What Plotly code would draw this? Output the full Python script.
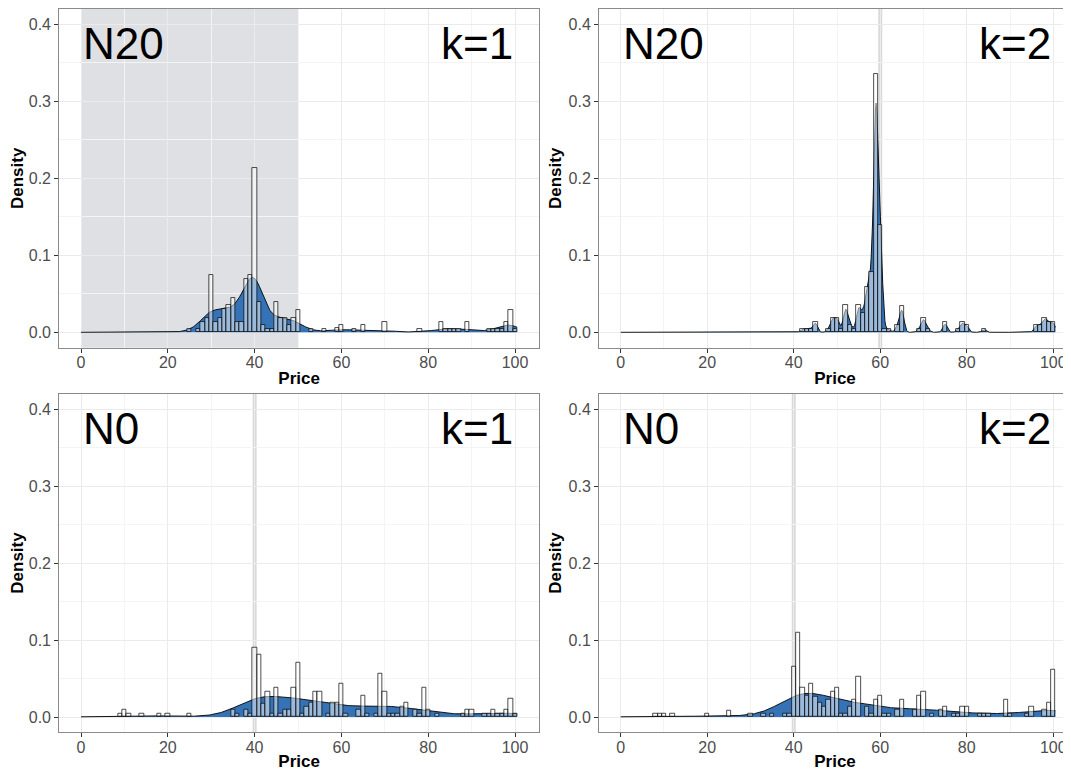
import numpy as np
import plotly.graph_objects as go

# ---------------- data ----------------
# Panel N20, k=1 : histogram (binwidth 1, centred on integer prices)
n20_k1_price = [25, 27, 28, 29, 30, 31, 32, 33, 34, 35, 36, 37, 38, 39, 40, 41, 42, 43, 44, 45,
                46, 47, 48, 49, 50, 53, 56, 59, 60, 63, 65, 70, 78, 83, 84, 85, 86, 87, 89,
                94, 95, 96, 97, 98, 99, 100]
n20_k1_density = [0.005, 0.005, 0.014, 0.019, 0.074, 0.014, 0.019, 0.030, 0.035, 0.045, 0.014, 0.014,
                  0.069, 0.074, 0.213, 0.039, 0.010, 0.005, 0.005, 0.039, 0.019, 0.019, 0.010, 0.019,
                  0.029, 0.004, 0.004, 0.006, 0.010, 0.005, 0.010, 0.014, 0.004, 0.014, 0.004, 0.004,
                  0.004, 0.004, 0.014, 0.004, 0.004, 0.004, 0.004, 0.014, 0.029, 0.004]

# Panel N20, k=2
n20_k2_price = [42, 43, 44, 45, 48, 49, 50, 51, 52, 53, 54, 55, 56, 57, 58, 59, 60, 61, 62, 64, 65,
                69, 70, 71, 75, 78, 79, 80, 84, 96, 97, 98, 99, 100]
n20_k2_density = [0.0043, 0.0043, 0.0043, 0.014, 0.004, 0.019, 0.019, 0.004, 0.035, 0.010, 0.004,
                  0.035, 0.025, 0.059, 0.079, 0.336, 0.139, 0.004, 0.004, 0.009, 0.034, 0.005,
                  0.019, 0.004, 0.013, 0.004, 0.013, 0.009, 0.004, 0.009, 0.009, 0.019, 0.013, 0.013]

# Panel N0, k=1
n0_k1_price = [9, 10, 11, 14, 18, 20, 25, 35, 36, 38, 39, 40, 41, 42, 43, 44, 45, 46, 47, 48, 49, 50,
               51, 52, 53, 54, 55, 57, 58, 59, 60, 61, 64, 65, 66, 68, 69, 70, 71, 72, 73, 74, 75,
               77, 78, 79, 80, 82, 88, 89, 90, 93, 94, 95, 96, 97, 98, 99, 100]
n0_k1_density = [0.005, 0.009, 0.004, 0.004, 0.004, 0.004, 0.004, 0.009, 0.004, 0.009, 0.004, 0.090,
                 0.081, 0.018, 0.033, 0.005, 0.038, 0.005, 0.009, 0.009, 0.038, 0.071, 0.005, 0.013,
                 0.019, 0.033, 0.033, 0.004, 0.019, 0.019, 0.043, 0.004, 0.009, 0.028, 0.004, 0.004,
                 0.057, 0.033, 0.004, 0.004, 0.004, 0.014, 0.019, 0.009, 0.004, 0.038, 0.009, 0.004,
                 0.004, 0.009, 0.009, 0.004, 0.004, 0.009, 0.004, 0.004, 0.009, 0.024, 0.004]

# Panel N0, k=2
n0_k2_price = [8, 9, 10, 12, 20, 25, 30, 33, 35, 38, 39, 40, 41, 42, 43, 44, 45, 46, 47, 48, 49, 50,
               51, 52, 53, 54, 55, 57, 58, 59, 60, 61, 62, 64, 65, 68, 69, 70, 72, 74, 75, 77, 78,
               79, 80, 83, 84, 85, 89, 90, 94, 95, 98, 99, 100]
n0_k2_density = [0.0043, 0.0043, 0.0043, 0.0043, 0.0043, 0.0087, 0.0043, 0.0043, 0.0043, 0.0043,
                 0.0043, 0.066, 0.110, 0.038, 0.028, 0.043, 0.027, 0.019, 0.013, 0.023, 0.033, 0.038,
                 0.005, 0.005, 0.013, 0.023, 0.052, 0.014, 0.004, 0.023, 0.028, 0.004, 0.004, 0.009,
                 0.023, 0.009, 0.028, 0.033, 0.004, 0.009, 0.014, 0.004, 0.004, 0.014, 0.014, 0.004,
                 0.004, 0.004, 0.023, 0.004, 0.004, 0.014, 0.009, 0.019, 0.062]

# kernel bandwidths of the density layer (as seen in each panel)
bandwidths = [2.2, 0.5, 5.0, 5.0]
panel_left_text = ["N20", "N20", "N0", "N0"]
panel_right_text = ["k=1", "k=2", "k=1", "k=2"]
reference_line = [None, 60, 40, 40]   # grey vertical line
shade_range = [(0, 50), None, None, None]
x_ticks = [0, 20, 40, 60, 80, 100]
y_ticks = [0.0, 0.1, 0.2, 0.3, 0.4]

panels = [(n20_k1_price, n20_k1_density), (n20_k2_price, n20_k2_density),
          (n0_k1_price, n0_k1_density), (n0_k2_price, n0_k2_density)]

# ---------------- style ----------------
OFF = 8                      # page body margin of the html page
W, H = 1071 - OFF, 771 - OFF
FONT = "Liberation Sans, Arial, Helvetica, sans-serif"
BLUE = "#3573B6"
GRID = "#EBEBEB"
MINOR = "#F4F4F4"
BORDER = "#8A8A8A"

def px_x(p):
    return (p - OFF) / W

def px_y(p):
    return 1 - (p - OFF) / H

x_dom = [[px_x(59.2), px_x(539.0)], [px_x(599.0), 1.0]]
y_dom = [[px_y(347.7), px_y(8.9)], [px_y(732.4), px_y(393.6)]]
x_rng = [[-5.025, 105.525], [-5.025, 104.1]]
y_rng = [-0.02, 0.42]

fig = go.Figure()
grid_x = np.linspace(0, 100.5, 600)

for i, (price, dens) in enumerate(panels):
    row, col = divmod(i, 2)
    sfx = "" if i == 0 else str(i + 1)
    xa, ya = "x" + sfx, "y" + sfx
    ya_over = "y" + str(i + 5)
    p = np.asarray(price, float)
    w = np.asarray(dens, float)
    bw = bandwidths[i]
    k = np.exp(-0.5 * ((grid_x[:, None] - p[None, :]) / bw) ** 2) / (bw * np.sqrt(2 * np.pi))
    kde = (k * w[None, :]).sum(axis=1) / w.sum()

    fig.add_trace(go.Scatter(x=grid_x, y=kde, mode="lines", fill="tozeroy",
                             fillcolor=BLUE, line=dict(color="black", width=0.9),
                             xaxis=xa, yaxis=ya, showlegend=False, hoverinfo="skip"))
    fig.add_trace(go.Bar(x=price, y=dens, width=1.0,
                         marker=dict(color="rgba(255,255,255,0.5)",
                                     line=dict(color="black", width=0.7)),
                         xaxis=xa, yaxis=ya_over, showlegend=False))

    axis_common = dict(showline=True, linecolor=BORDER, linewidth=1, ticks="outside",
                       ticklen=4, tickcolor="#333333", tickwidth=1,
                       showgrid=True, gridcolor=GRID, gridwidth=1, zeroline=False,
                       tickfont=dict(family=FONT, size=16, color="#4D4D4D"))
    xkw = dict(axis_common, domain=x_dom[col], range=x_rng[col], anchor=ya,
               tickvals=x_ticks, ticktext=[str(t) for t in x_ticks], mirror=True,
               ticklabelstandoff=-4,
               minor=dict(dtick=10, tick0=10, showgrid=True, gridcolor=MINOR, gridwidth=1),
               title=dict(text="<b>Price</b>", font=dict(family=FONT, size=17, color="black"),
                          standoff=2))
    ykw = dict(axis_common, domain=y_dom[row], range=y_rng, anchor=xa,
               tickvals=y_ticks, ticktext=["%.1f" % t for t in y_ticks],
               mirror=(col == 0),
               minor=dict(dtick=0.1, tick0=0.05, showgrid=True, gridcolor=MINOR, gridwidth=1),
               title=dict(text="<b>Density</b>", font=dict(family=FONT, size=17, color="black"),
                          standoff=2))
    yover = dict(overlaying=ya, anchor=xa, range=y_rng, visible=False, showgrid=False,
                 zeroline=False)
    fig.update_layout({"xaxis" + sfx: xkw, "yaxis" + sfx: ykw, "yaxis" + str(i + 5): yover})

    if shade_range[i] is not None:
        fig.add_shape(type="rect", xref=xa, yref=ya + " domain", x0=shade_range[i][0],
                      x1=shade_range[i][1], y0=0, y1=1, fillcolor="#DFE0E3",
                      line=dict(width=0), layer="below")
    if reference_line[i] is not None:
        fig.add_shape(type="line", xref=xa, yref=ya + " domain", x0=reference_line[i],
                      x1=reference_line[i], y0=0, y1=1,
                      line=dict(color="#DADADA", width=4), layer="below")

    fig.add_annotation(x=0, y=0.4, xref=xa, yref=ya, text=panel_left_text[i],
                       xanchor="left", yanchor="top", showarrow=False, yshift=7,
                       font=dict(family=FONT, size=44, color="black"))
    fig.add_annotation(x=100, y=0.4, xref=xa, yref=ya, text=panel_right_text[i],
                       xanchor="right", yanchor="top", showarrow=False, yshift=7,
                       font=dict(family=FONT, size=44, color="black"))

fig.update_layout(width=W, height=H, margin=dict(l=0, r=0, t=0, b=0),
                  paper_bgcolor="white", plot_bgcolor="white", bargap=0,
                  font=dict(family=FONT))

fig.write_html("out.html")
